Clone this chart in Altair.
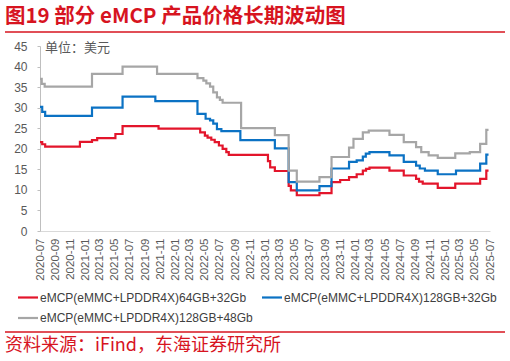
import altair as alt
import pandas as pd

# ---------------- data ----------------
series_names = [
    "eMCP(eMMC+LPDDR4X)64GB+32Gb",
    "eMCP(eMMC+LPDDR4X)128GB+32Gb",
    "eMCP(eMMC+LPDDR4X)128GB+48Gb",
]
series_colors = ["#E3152B", "#0B72C4", "#A6A6A6"]

red_dates = ["2020-07-01", "2020-07-10", "2020-07-22", "2020-12-10", "2021-01-28", "2021-02-18",
             "2021-05-03", "2021-06-01", "2021-10-25", "2022-04-12", "2022-05-01", "2022-05-12",
             "2022-05-27", "2022-06-10", "2022-06-27", "2022-07-12", "2022-07-27", "2022-08-06",
             "2023-01-12", "2023-01-21", "2023-02-09", "2023-04-06", "2023-04-15", "2023-05-09",
             "2023-08-09", "2023-09-27", "2023-11-01", "2023-12-07", "2024-01-07", "2024-02-01",
             "2024-02-14", "2024-02-28", "2024-05-19", "2024-07-16", "2024-09-04", "2024-09-16",
             "2024-10-01", "2024-12-01", "2025-02-10", "2025-05-22", "2025-06-16", "2025-06-25"]
red_values = [21.6, 21.1, 20.5, 21.7, 22.1, 22.6,
              23.6, 25.5, 24.9, 24.0, 23.2, 22.7,
              22.2, 21.6, 20.8, 20.0, 19.2, 18.5,
              17.0, 15.5, 14.6, 11.0, 9.9, 8.7,
              9.2, 11.9, 12.4, 13.1, 13.8, 14.7,
              15.1, 15.4, 14.7, 13.5, 12.7, 12.0,
              11.5, 10.5, 11.5, 12.7, 14.7, 14.7]

blue_dates = ["2020-07-01", "2020-07-10", "2020-07-22", "2021-01-28", "2021-06-01", "2021-10-12",
              "2022-04-01", "2022-05-04", "2022-05-22", "2022-06-04", "2022-06-19", "2022-07-07",
              "2022-09-22", "2023-02-09", "2023-04-06", "2023-05-09", "2023-08-09", "2023-09-27",
              "2023-12-07", "2024-01-07", "2024-02-01", "2024-02-13", "2024-02-28", "2024-05-19",
              "2024-07-16", "2024-09-04", "2024-09-19", "2024-10-10", "2024-12-01", "2025-02-13",
              "2025-05-22", "2025-06-16", "2025-06-25"]
blue_values = [30.2, 29.0, 28.0, 30.0, 32.7, 31.6,
               28.5, 27.3, 26.9, 26.1, 24.8, 24.3,
               22.1, 20.1, 11.9, 9.9, 10.9, 15.2,
               16.8, 17.2, 18.1, 18.8, 19.2, 18.4,
               16.8, 15.9, 15.2, 14.7, 13.8, 14.7,
               16.4, 18.6, 18.6]

grey_dates = ["2020-07-01", "2020-07-08", "2020-07-20", "2021-01-28", "2021-06-01", "2021-10-19",
              "2022-04-01", "2022-04-25", "2022-05-07", "2022-05-22", "2022-06-04", "2022-06-19",
              "2022-07-01", "2022-07-12", "2022-09-25", "2023-02-09", "2023-04-06", "2023-05-09",
              "2023-08-09", "2023-09-27", "2023-12-07", "2023-12-25", "2024-02-01", "2024-02-25",
              "2024-05-19", "2024-07-16", "2024-09-04", "2024-09-25", "2024-10-25", "2024-12-01",
              "2025-02-10", "2025-04-10", "2025-05-22", "2025-06-16", "2025-06-25"]
grey_values = [37.0, 35.8, 35.1, 38.2, 40.0, 38.2,
               37.2, 36.6, 35.9, 35.1, 33.7, 32.5,
               31.9, 31.2, 25.0, 23.3, 14.7, 12.0,
               13.1, 18.0, 20.3, 22.4, 24.0, 24.4,
               23.4, 21.6, 20.4, 19.2, 18.4, 17.8,
               18.9, 19.2, 21.2, 24.6, 24.6]

y_ticks = [0, 5, 10, 15, 20, 25, 30, 35, 40, 45]
x_tick_months = [(2020, 7), (2020, 9), (2020, 11), (2021, 1), (2021, 3), (2021, 5), (2021, 7),
                 (2021, 9), (2021, 11), (2022, 1), (2022, 3), (2022, 5), (2022, 7), (2022, 9),
                 (2022, 11), (2023, 1), (2023, 3), (2023, 5), (2023, 7), (2023, 9), (2023, 11),
                 (2024, 1), (2024, 3), (2024, 5), (2024, 7), (2024, 9), (2024, 11), (2025, 1),
                 (2025, 3), (2025, 5), (2025, 7)]

title_text = "图19  部分 eMCP 产品价格长期波动图"
unit_text = "单位：美元"
source_text = "资料来源：iFind，东海证券研究所"

# ---------------- build table ----------------
rows = []
for name, dates, vals in zip(series_names, [red_dates, blue_dates, grey_dates],
                             [red_values, blue_values, grey_values]):
    for d, v in zip(dates, vals):
        rows.append({"series": name, "date": d + "T00:00:00", "value": v})
df = pd.DataFrame(rows)

W, H = 450, 185
RED = "#D7141F"
LBL = "#595959"

x_vals = [alt.DateTime(year=y, month=m, date=1) for y, m in x_tick_months]

lines = alt.Chart(df).mark_line(interpolate="step-after", strokeWidth=2.2).encode(
    x=alt.X("date:T",
            scale=alt.Scale(domain=[alt.DateTime(year=2020, month=7, date=1),
                                    alt.DateTime(year=2025, month=7, date=1)]),
            axis=alt.Axis(values=x_vals, format="%Y-%m", labelAngle=270, title=None,
                          ticks=False, labelPadding=7, grid=False, domainColor="#D9D9D9",
                          labelColor=LBL, labelFont="Liberation Sans", labelFontSize=11.5,
                          labelOverlap=False)),
    y=alt.Y("value:Q", scale=alt.Scale(domain=[0, 45], nice=False),
            axis=alt.Axis(values=y_ticks, title=None, grid=False, tickSize=3,
                          tickColor="#BFBFBF", domainColor="#BFBFBF", labelPadding=10,
                          labelColor=LBL, labelFont="Liberation Sans", labelFontSize=12)),
    color=alt.Color("series:N", scale=alt.Scale(domain=series_names, range=series_colors),
                    legend=None),
    order=alt.Order("date:T"),
)


def text_layer(txt, x, y, size, color, font, weight="normal", align="left"):
    return alt.Chart(pd.DataFrame({"t": [txt]})).mark_text(
        align=align, baseline="middle", fontSize=size, color=color, font=font,
        fontWeight=weight
    ).encode(x=alt.value(x), y=alt.value(y), text="t:N")


def rule_layer(x1, x2, y, color, width):
    return alt.Chart(pd.DataFrame({"a": [0]})).mark_rule(color=color, strokeWidth=width).encode(
        x=alt.value(x1), x2=alt.value(x2), y=alt.value(y))


title = text_layer(title_text, -35, -29.5, 20.5, RED, "Noto Sans CJK SC", weight="bold")
top_rule = rule_layer(-35, 465, -14, RED, 1.5)
unit = text_layer(unit_text, 5, 2, 13, LBL, "Noto Sans CJK SC")
bottom_rule = rule_layer(-35, 465, 286, RED, 1.5)
source = text_layer(source_text, -35, 300, 18, RED, "Noto Sans CJK SC")

legend_pos = [(-22, 251.5), (222, 251.5), (-22, 272)]
legend_layers = []
for name, col, (lx, ly) in zip(series_names, series_colors, legend_pos):
    legend_layers.append(rule_layer(lx, lx + 20, ly, col, 2.2))
    legend_layers.append(text_layer(name, lx + 22, ly, 12, "#404040", "Liberation Sans"))

chart = alt.layer(lines, title, top_rule, unit, bottom_rule, source, *legend_layers).properties(
    width=W, height=H,
    padding={"left": 40, "top": 46, "right": 20, "bottom": 130},
    autosize=alt.AutoSizeParams(type="none"),
    background="white",
).configure_view(stroke=None)

chart.save("out.html", embed_options={"renderer": "svg", "actions": False})
